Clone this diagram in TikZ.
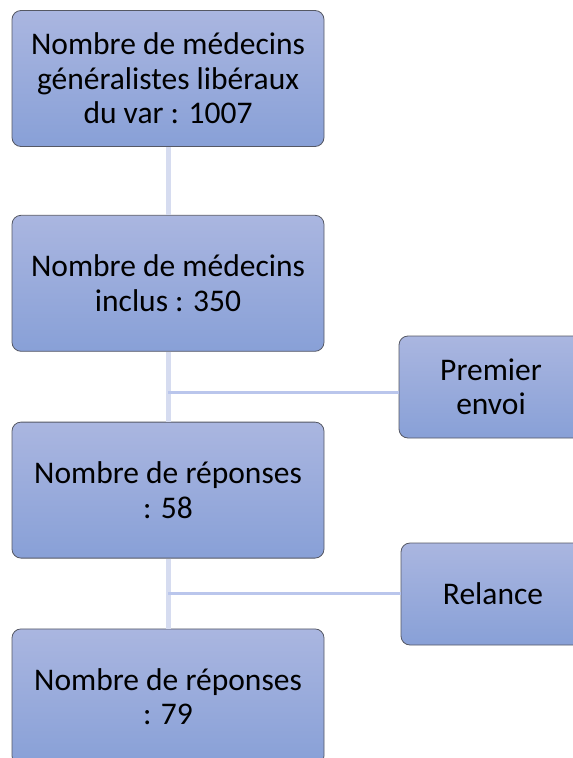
\documentclass[tikz,border=0pt]{standalone}
\usepackage{fontspec}
\setmainfont{Carlito}
\usepackage{tikz}
\usetikzlibrary{positioning}
\definecolor{boxtop}{RGB}{170,182,224}
\definecolor{boxbot}{RGB}{136,160,215}
\definecolor{boxline}{RGB}{85,88,100}
\definecolor{vline}{RGB}{214,220,240}
\definecolor{hline}{RGB}{186,198,236}
\tikzstyle{etape} = [draw=boxline, line width=0.8pt, rounded corners=9pt, top color=boxtop, bottom color=boxbot, minimum width=312pt, minimum height=136pt, align=center, font=\fontsize{31.5}{34.5}\selectfont]
\tikzstyle{action} = [etape, minimum width=184pt, minimum height=102pt]
\tikzstyle{tronc} = [vline, line width=5pt]
\tikzstyle{branche} = [hline, line width=3pt]

\begin{document}
\begin{tikzpicture}[x=1pt, y=1pt]
            \clip (0,0) rectangle (573,-758);
            \useasboundingbox (0,0) rectangle (573,-758);
            % points de depart des branches
            \coordinate (j1) at (168,-392);
            \coordinate (j2) at (168,-593);
            
            % boites principales
            \node[etape] (b1) at (168,-78.5) {Nombre de médecins\\généralistes libéraux\\du var : 1007};
            \node[etape, below=68pt of b1] (b2) {Nombre de médecins\\inclus : 350};
            \node[etape, below=70pt of b2] (b3) {Nombre de réponses\\: 58};
            \node[etape, below=70pt of b3] (b4) {Nombre de réponses\\: 79};
            
            % boites de droite
            \node[action] (pe) at (491,-387) {Premier\\envoi};
            \node[action] (rel) at (493,-594) {Relance};
            
            % connecteurs
            \draw[tronc] (b1.south) -- (b2.north);
            \draw[tronc] (b2.south) -- (b3.north);
            \draw[tronc] (b3.south) -- (b4.north);
            \draw[branche] (j1) -- (j1 -| pe.west);
            \draw[branche] (j2) -- (j2 -| rel.west);
        \end{tikzpicture}
\end{document}
